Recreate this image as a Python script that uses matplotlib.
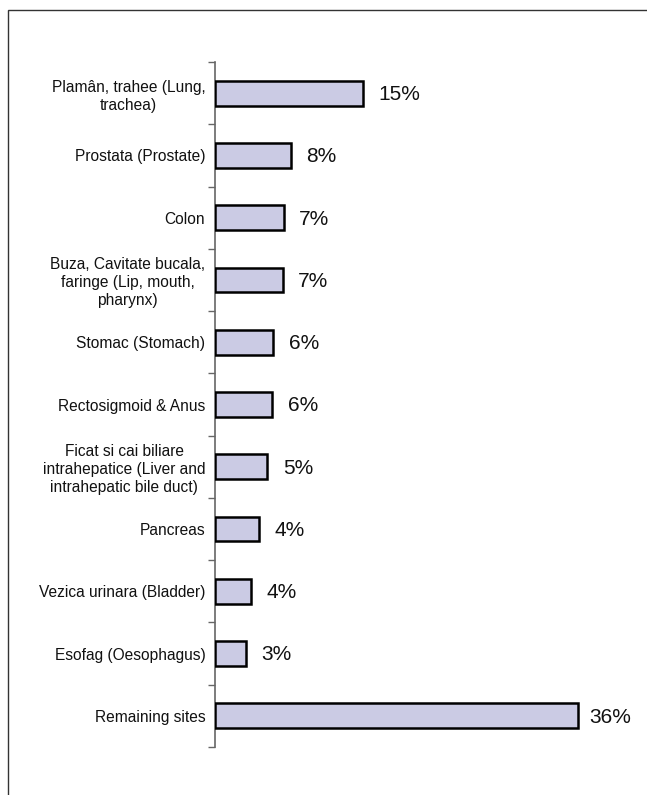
import matplotlib
matplotlib.use("Agg")
import matplotlib.pyplot as plt
from matplotlib.patches import Rectangle

categories = [
    "Plamân, trahee (Lung,\ntrachea)",
    "Prostata (Prostate)",
    "Colon",
    "Buza, Cavitate bucala,\nfaringe (Lip, mouth,\npharynx)",
    "Stomac (Stomach)",
    "Rectosigmoid & Anus",
    "Ficat si cai biliare\nintrahepatice (Liver and\nintrahepatic bile duct)",
    "Pancreas",
    "Vezica urinara (Bladder)",
    "Esofag (Oesophagus)",
    "Remaining sites",
]
values = [14.7, 7.5, 6.8, 6.7, 5.8, 5.7, 5.2, 4.4, 3.6, 3.1, 36.0]
value_labels = ["15%", "8%", "7%", "7%", "6%", "6%", "5%", "4%", "4%", "3%", "36%"]

plt.rcParams['font.family'] = ['Liberation Sans', 'DejaVu Sans']

W, H = 647, 795
fig = plt.figure(figsize=(W / 100, H / 100), dpi=100)
fig.patch.set_facecolor("white")

# outer frame (right and bottom edges fall outside the image)
fig.add_artist(Rectangle((7.5 / W, -0.1), 1.2, 1.1 - 10 / H, transform=fig.transFigure,
                         fill=False, edgecolor="#333333", linewidth=1.0))

left, right = 215 / W, (215 + 40 * 10.08) / W
top, bottom = 1 - 62 / H, 1 - 747 / H
ax = fig.add_axes([left, bottom, right - left, top - bottom])

n = len(categories)
ypos = list(range(n))
ax.barh(ypos, values, height=0.40, color="#CBCBE4", edgecolor="black", linewidth=1.8, zorder=3)
ax.set_ylim(n - 0.5, -0.5)
ax.set_xlim(0, 40)

vmax = max(values)
for y, v, lab in zip(ypos, values, value_labels):
    off = 8 if v == vmax else 11
    ax.annotate(lab, (v, y), xytext=(off, -1), textcoords="offset points",
                va="center", ha="left", fontsize=15, color="#111111")

ax.set_yticks(ypos)
ax.set_yticklabels(categories, fontsize=11.2, multialignment="center", linespacing=1.25,
                   color="#111111")
ax.set_yticks([i - 0.5 for i in range(n + 1)], minor=True)
ax.tick_params(axis="y", which="major", length=0, pad=7)
ax.tick_params(axis="y", which="minor", length=5, width=1, color="#666666", direction="out")
ax.set_xticks([])

for s in ["top", "right", "bottom"]:
    ax.spines[s].set_visible(False)
ax.spines["left"].set_color("#666666")
ax.spines["left"].set_linewidth(1.2)
ax.set_facecolor("none")

fig.savefig("out.png", dpi=100, facecolor="white")
